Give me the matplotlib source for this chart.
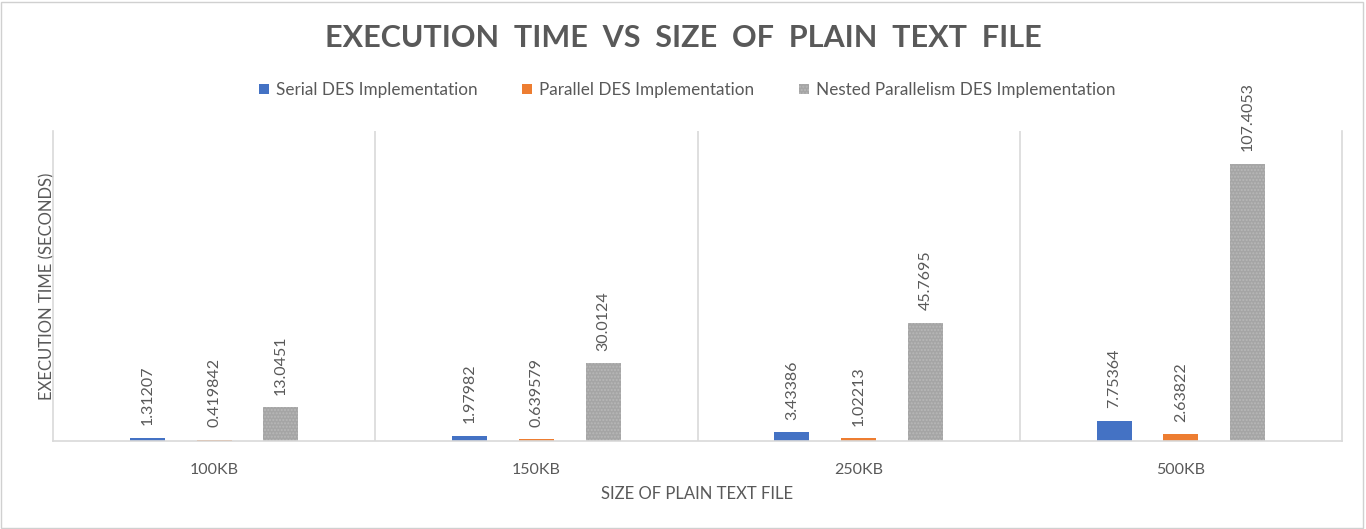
import matplotlib.pyplot as plt
import numpy as np
from matplotlib.patches import Rectangle

# data
sizes = ['100KB', '150KB', '250KB', '500KB']
serial = [1.31207, 1.97982, 3.43386, 7.75364]
parallel = [0.419842, 0.639579, 1.02213, 2.63822]
nested = [13.0451, 30.0124, 45.7695, 107.4053]
names = ['Serial DES Implementation', 'Parallel DES Implementation',
         'Nested Parallelism DES Implementation']
colors = ['#4472C4', '#ED7D31', '#A5A5A5']

plt.rcParams['font.family'] = ['Lato', 'DejaVu Sans']
txt = '#595959'
grid = '#D9D9D9'

fig = plt.figure(figsize=(13.66, 5.29), dpi=100)
ax = fig.add_axes([53/1366, 1-441/529, (1342-53)/1366, (441-131)/529])

x = np.arange(len(sizes))
w = 0.109
off = 0.207
series = [serial, parallel, nested]
for i, vals in enumerate(series):
    pos = x + (i-1)*off
    if i == 2:
        bars = ax.bar(pos, vals, w, color=colors[i], edgecolor='#B8B8B8',
                      hatch='.....', linewidth=0, label=names[i])
    else:
        bars = ax.bar(pos, vals, w, color=colors[i], label=names[i])
    for p, v in zip(pos, vals):
        ax.annotate(str(v), (p, v), xytext=(0, 9), textcoords='offset points',
                    rotation=90, ha='center', va='bottom', color=txt, fontsize=11.5)

ax.set_xlim(-0.5, len(sizes)-0.5)
ax.set_ylim(0, 120)
ax.set_yticks([])
ax.set_xticks(x)
ax.set_xticklabels(sizes, fontsize=11.5, color=txt)
ax.tick_params(axis='x', length=0, pad=16)
for b in [0.5, 1.5, 2.5]:
    ax.axvline(b, color=grid, lw=1.2, zorder=0)
ax.spines['top'].set_visible(False)
for s in ['left', 'right', 'bottom']:
    ax.spines[s].set_color(grid)
    ax.spines[s].set_linewidth(1.2)

ax.set_xlabel('SIZE OF PLAIN TEXT FILE', fontsize=12, color=txt, labelpad=6)
ax.set_ylabel('EXECUTION TIME (SECONDS)', fontsize=12, color=txt, labelpad=-2)

fig.text(0.5, 1-38/529, 'EXECUTION  TIME  VS  SIZE  OF  PLAIN  TEXT  FILE',
         ha='center', va='center', fontsize=22, fontweight='bold', color=txt)
fig.legend(loc='center', bbox_to_anchor=(0.503, 1-90/529), ncol=3, frameon=False,
           fontsize=12.3, labelcolor=txt, handlelength=0.6, handleheight=0.6,
           handletextpad=0.4, columnspacing=2.6)

fig.patches.append(Rectangle((0.001, 0.002), 0.997, 0.995, transform=fig.transFigure,
                             fill=False, edgecolor='#D0D0D0', lw=1))

fig.savefig('out.png', dpi=100)
